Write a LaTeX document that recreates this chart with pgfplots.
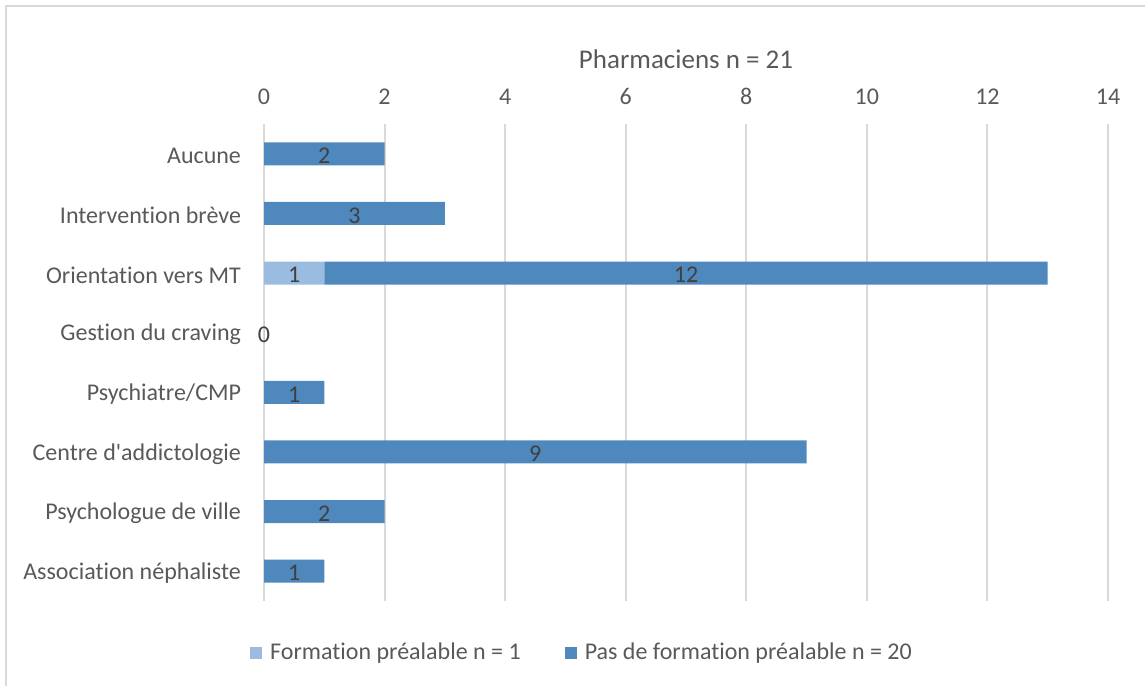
\documentclass[border=0pt]{standalone}
\usepackage{pgfplots}
\pgfplotsset{compat=1.18}
\usepackage{pgfplotstable}
\usepackage{fontspec}
\setmainfont{Carlito}[Ligatures={TeXOff,NoCommon}]
\definecolor{lightc}{HTML}{9BBCE1}
\definecolor{darkc}{HTML}{4E88BD}
\definecolor{gridc}{HTML}{D9D9D9}
\definecolor{txtc}{HTML}{595959}
\definecolor{lblc}{HTML}{404040}

\pgfplotstableread{
y light dark
0 0 2
1 0 3
2 1 12
3 0 0
4 0 1
5 0 9
6 0 2
7 0 1
}\bars

% label positions (middle of each segment) and the value shown
\pgfplotstableread{
x y t
1 0 2
1.5 1 3
0.5 2 1
7 2 12
0 3 0
0.5 4 1
4.5 5 9
1 6 2
0.5 7 1
}\labels

\begin{document}
\begin{tikzpicture}[font=\fontsize{12}{14}\selectfont]
\path[use as bounding box] (0,0) rectangle (572.5pt,343pt);
\draw[gridc, line width=1pt] (3pt,0) -- (3pt,340pt) -- (572.5pt,340pt);
\begin{axis}[
    name=ax,
    at={(132pt,42.5pt)}, anchor=south west,
    scale only axis, width=422pt, height=238.5pt,
    xmin=0, xmax=14, ymin=-0.5, ymax=7.5,
    y dir=reverse,
    xtick={0,2,...,14},
    ytick={0,...,7},
    yticklabels={Aucune, Intervention brève, Orientation vers MT, Gestion du craving, Psychiatre/CMP, Centre d'addictologie, Psychologue de ville, Association néphaliste},
    xticklabel pos=upper,
    axis line style={draw=none},
    major tick length=0pt,
    xmajorgrids,
    grid style={draw=gridc, line width=1pt},
    tick label style={text=txtc},
    xticklabel style={yshift=6pt},
    yticklabel style={xshift=-8pt, yshift=-1pt},
    /pgf/number format/assume math mode=true,
    bar width=11.5pt,
    clip=false,
    legend style={at={(0.378,-0.108)}, anchor=center, draw=none, fill=none,
        legend columns=2, text=txtc,
        /tikz/every odd column/.append style={column sep=2pt},
        /tikz/every even column/.append style={column sep=20pt}},
    legend image code/.code={\path[#1, draw=none] (0pt,-3pt) rectangle (6pt,3pt);},
]
\addplot[xbar, stack plots=x, fill=lightc, draw=none] table[x=light, y=y] {\bars};
\addlegendentry{Formation préalable n = 1}
\addplot[xbar, stack plots=x, fill=darkc, draw=none] table[x=dark, y=y] {\bars};
\addlegendentry{Pas de formation préalable n = 20}
\addplot[forget plot, stack plots=false, draw=none, mark=none, nodes near coords,
    point meta=explicit symbolic,
    every node near coord/.style={anchor=center, yshift=-1pt, text=lblc}]
    table[x=x, y=y, meta=t] {\labels};
\end{axis}
\node[text=txtc, font=\fontsize{13.5}{16}\selectfont] at ([yshift=32.5pt]ax.north) {Pharmaciens n = 21};
\end{tikzpicture}
\end{document}
